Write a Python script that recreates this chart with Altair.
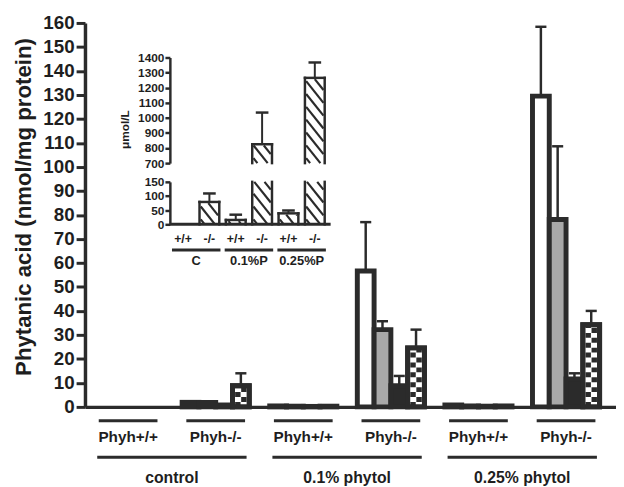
import altair as alt
import pandas as pd

FONT = "Liberation Sans"
INK = "#2b2b2b"
TXT = "#1e1e1e"

# ---------------- data ----------------
diets = ["control", "0.1% phytol", "0.25% phytol"]
genotypes = ["Phyh+/+", "Phyh-/-"]
series = ["white", "grey", "black", "checked"]

mean_control_wt = [0.0, 0.0, 0.0, 0.0]
mean_control_ko = [1.9, 1.8, 0.8, 8.8]
mean_p01_wt = [0.4, 0.3, 0.2, 0.3]
mean_p01_ko = [56.6, 32.2, 8.8, 24.6]
mean_p025_wt = [0.8, 0.4, 0.3, 0.4]
mean_p025_ko = [129.5, 78.1, 11.6, 34.2]

sd_control_wt = [0, 0, 0, 0]
sd_control_ko = [0, 0, 0, 5.2]
sd_p01_wt = [0, 0, 0, 0]
sd_p01_ko = [20.4, 3.5, 4.1, 7.6]
sd_p025_wt = [0, 0, 0, 0]
sd_p025_ko = [28.9, 30.5, 2.4, 5.8]

y_ticks = list(range(0, 161, 10))

inset_diets = ["C", "0.1%P", "0.25%P"]
inset_genotypes = ["+/+", "-/-"]
inset_mean = [0, 79, 15.4, 825, 38.7, 1265]
inset_sd = [0, 30, 18.6, 210, 10.1, 102]
inset_ticks_low = [0, 50, 100, 150]
inset_ticks_high = [700, 800, 900, 1000, 1100, 1200, 1300, 1400]
inset_break_low = 150
inset_break_high = 700

# ---------------- layout ----------------
W, H = 538, 389
SLOT = 17.0          # px per bar
GSTEP = 5.22         # group pitch in bar widths
XSTART = -0.57
xdom = [XSTART, XSTART + W / SLOT]

means = [mean_control_wt, mean_control_ko, mean_p01_wt, mean_p01_ko, mean_p025_wt, mean_p025_ko]
sds = [sd_control_wt, sd_control_ko, sd_p01_wt, sd_p01_ko, sd_p025_wt, sd_p025_ko]

rows = []
for g, (m, s) in enumerate(zip(means, sds)):
    for k in range(4):
        x0 = g * GSTEP + k
        c = x0 + 0.5
        rows.append(dict(group=g, series=series[k], x0=x0, x1=x0 + 1, xc=c, base=0.0,
                         value=m[k], sd=s[k], top=m[k] + s[k],
                         cl=c - 0.33, cr=c + 0.33, pl=c - 0.18, pr=c + 0.18))
bars = pd.DataFrame(rows)

xs = alt.Scale(domain=xdom, nice=False, zero=False)
ys = alt.Scale(domain=[0, 160], nice=False, zero=False)

y_axis = alt.Axis(values=y_ticks, tickCount=17, tickSize=9, tickWidth=3, domainWidth=3.5, domainColor=INK,
                  tickColor=INK, labelFont=FONT, labelFontSize=19, labelFontWeight="bold",
                  labelColor=TXT, labelPadding=2, labelOverlap=False, labelBound=False, grid=False,
                  format="d",
                  title="Phytanic acid (nmol/mg protein)", titleFont=FONT, titleFontSize=22.5,
                  titleFontWeight="bold", titleColor=TXT, titlePadding=8, titleY=186)
x_axis = alt.Axis(labels=False, ticks=False, title=None, grid=False, domainWidth=3.5, domainColor=INK)


def MX(f):
    return alt.X(f, scale=xs, axis=x_axis)


def MY(f):
    return alt.Y(f, scale=ys, axis=y_axis)


bar_layer = alt.Chart(bars[bars.value > 0]).mark_rect(stroke=INK, strokeWidth=5).encode(
    x=MX("x0:Q"), x2="x1:Q", y=MY("value:Q"), y2="base:Q",
    fill=alt.Fill("series:N", scale=alt.Scale(domain=series, range=["#ffffff", "#a9a9a9", INK, "#ffffff"]),
                  legend=None),
)

chk = bars[(bars.series == "checked") & (bars.value > 2)]
chk_a = alt.Chart(chk).mark_rule(color=INK, strokeWidth=5.5, strokeDash=[5, 5], strokeDashOffset=0).encode(
    x=MX("pl:Q"), y=MY("base:Q"), y2="value:Q")
chk_b = alt.Chart(chk).mark_rule(color=INK, strokeWidth=5.5, strokeDash=[5, 5], strokeDashOffset=5).encode(
    x=MX("pr:Q"), y=MY("base:Q"), y2="value:Q")
chk_outline = alt.Chart(chk).mark_rect(fill="white", fillOpacity=0, stroke=INK, strokeWidth=5).encode(
    x=MX("x0:Q"), x2="x1:Q", y=MY("value:Q"), y2="base:Q")

err = bars[bars.sd > 0]
stems = alt.Chart(err).mark_rule(color=INK, strokeWidth=2.5).encode(
    x=MX("xc:Q"), y=MY("value:Q"), y2="top:Q")
caps = alt.Chart(err).mark_rule(color=INK, strokeWidth=2.5).encode(
    x=MX("cl:Q"), x2="cr:Q", y=MY("top:Q"))

geno = pd.DataFrame([dict(label=genotypes[g % 2], c=g * GSTEP + 2, l=g * GSTEP + 0.25, r=g * GSTEP + 3.75)
                     for g in range(6)])
diet = pd.DataFrame([dict(label=diets[d], c=2 * d * GSTEP + 2 + GSTEP / 2,
                          l=2 * d * GSTEP + 2 + GSTEP / 2 - 4.45, r=2 * d * GSTEP + 2 + GSTEP / 2 + 4.45)
                     for d in range(3)])

geno_lines = alt.Chart(geno).mark_rule(color=INK, strokeWidth=3).encode(
    x=MX("l:Q"), x2="r:Q", y=alt.value(403))
geno_text = alt.Chart(geno).mark_text(font=FONT, fontSize=15.5, fontWeight="bold", color=TXT,
                                      baseline="middle", align="center").encode(
    x=MX("c:Q"), y=alt.value(420), text="label:N")
diet_lines = alt.Chart(diet).mark_rule(color=INK, strokeWidth=3).encode(
    x=MX("l:Q"), x2="r:Q", y=alt.value(440))
diet_text = alt.Chart(diet).mark_text(font=FONT, fontSize=16, fontWeight="bold", color=TXT,
                                      baseline="middle", align="center").encode(
    x=MX("c:Q"), y=alt.value(461), text="label:N")

main = alt.layer(bar_layer, chk_a, chk_b, chk_outline, stems, caps,
                 geno_lines, geno_text, diet_lines, diet_text)

# ---------------- inset (broken axis) ----------------
KX = 26.7
IX_RANGE = [86, 86 + 6.1 * KX]
LO_RANGE = [204, 161]
HI_RANGE = [142, 35]
KY_LO = (LO_RANGE[0] - LO_RANGE[1]) / (inset_break_low - 0)
KY_HI = (HI_RANGE[0] - HI_RANGE[1]) / (1400 - inset_break_high)

ibars = []
for i, (v, s) in enumerate(zip(inset_mean, inset_sd)):
    c = i + 0.5
    ibars.append(dict(i=i, c=c, x0=c - 0.375, x1=c + 0.375, value=v, sd=s, top=v + s,
                      cl=c - 0.24, cr=c + 0.24,
                      geno=inset_genotypes[i % 2]))
ib = pd.DataFrame(ibars)


def hatch(x0, x1, y0, y1, ky, closed):
    out = []
    pad = 1.25
    xl, xr = x0 * KX + pad, x1 * KX - pad
    vb = y0 * ky
    vt = y1 * ky - (pad if closed else 0)
    k, step = 1.25, 13.0
    cc = vb + 5
    while cc < vt + k * (xr - xl):
        xa = max(xl, xl + (cc - vt) / k)
        xb = min(xr, xl + (cc - vb) / k)
        if xb - xa > 0.5:
            out.append(dict(hx=xa / KX, hy=(cc - k * (xa - xl)) / ky,
                            hx2=xb / KX, hy2=(cc - k * (xb - xl)) / ky))
        cc += step
    return out


lo_rows, hi_rows, lo_h, hi_h = [], [], [], []
for r in ibars:
    v = r["value"]
    if v <= 0:
        continue
    closed = v <= inset_break_low
    lo_rows.append(dict(x0=r["x0"], x1=r["x1"], y0=0.0, y1=min(v, inset_break_low), closed=closed))
    lo_h += hatch(r["x0"], r["x1"], 0.0, min(v, inset_break_low), KY_LO, closed)
    if v > inset_break_high:
        hi_rows.append(dict(x0=r["x0"], x1=r["x1"], y0=float(inset_break_high), y1=v, closed=True))
        hi_h += hatch(r["x0"], r["x1"], float(inset_break_high), v, KY_HI, True)
lo_seg = pd.DataFrame(lo_rows)
hi_seg = pd.DataFrame(hi_rows)
lo_err = ib[(ib.sd > 0) & (ib.value <= inset_break_low)]
hi_err = ib[(ib.sd > 0) & (ib.value > inset_break_high)]


def inset_axis(vals):
    return alt.Axis(orient="left", offset=-86, values=vals, tickSize=5, tickWidth=2.5, domainWidth=2.5,
                    domainColor=INK, tickColor=INK, labelFont=FONT, labelFontSize=12, format="d",
                    labelFontWeight="bold", labelColor=TXT, labelPadding=1, labelOverlap=False,
                    labelBound=False, title=None, grid=False)


def inset_layer(seg, hdf, edf, yscale, axis, extra):
    ix = alt.Scale(domain=[0, 6.1], range=IX_RANGE, nice=False, zero=False)
    X = lambda f: alt.X(f, scale=ix, axis=None)
    Y = lambda f: alt.Y(f, scale=yscale, axis=axis)
    layers = [
        alt.Chart(seg).mark_rect(fill="white", strokeWidth=0).encode(
            x=X("x0:Q"), x2="x1:Q", y=Y("y0:Q"), y2="y1:Q"),
        alt.Chart(pd.DataFrame(hdf)).mark_rule(color=INK, strokeWidth=2.2).encode(
            x=X("hx:Q"), x2="hx2:Q", y=Y("hy:Q"), y2="hy2:Q"),
        alt.Chart(seg).mark_rule(color=INK, strokeWidth=2.5, strokeCap="square").encode(
            x=X("x0:Q"), y=Y("y0:Q"), y2="y1:Q"),
        alt.Chart(seg).mark_rule(color=INK, strokeWidth=2.5, strokeCap="square").encode(
            x=X("x1:Q"), y=Y("y0:Q"), y2="y1:Q"),
        alt.Chart(seg[seg.closed]).mark_rule(color=INK, strokeWidth=2.5, strokeCap="square").encode(
            x=X("x0:Q"), x2="x1:Q", y=Y("y1:Q")),
        alt.Chart(edf).mark_rule(color=INK, strokeWidth=2).encode(
            x=X("c:Q"), y=Y("value:Q"), y2="top:Q"),
        alt.Chart(edf).mark_rule(color=INK, strokeWidth=2.5).encode(
            x=X("cl:Q"), x2="cr:Q", y=Y("top:Q")),
    ]
    return alt.layer(*(layers + extra(X, Y)))


def lo_extra(X, Y):
    base = pd.DataFrame([dict(a=0.0, b=6.1, y=0.0)])
    pairs = pd.DataFrame([dict(label=inset_diets[d], c=2 * d + 1, l=2 * d + 0.08, r=2 * d + 1.92)
                          for d in range(3)])
    return [
        alt.Chart(base).mark_rule(color=INK, strokeWidth=3).encode(x=X("a:Q"), x2="b:Q", y=Y("y:Q")),
        alt.Chart(ib).mark_text(font=FONT, fontSize=12.5, fontWeight="bold", color=TXT,
                                baseline="middle", align="center").encode(
            x=X("c:Q"), y=alt.value(219), text="geno:N"),
        alt.Chart(pairs).mark_rule(color=INK, strokeWidth=3).encode(x=X("l:Q"), x2="r:Q", y=alt.value(230)),
        alt.Chart(pairs).mark_text(font=FONT, fontSize=13, fontWeight="bold", color=TXT,
                                   baseline="middle", align="center").encode(
            x=X("c:Q"), y=alt.value(241), text="label:N"),
    ]


def hi_extra(X, Y):
    t = pd.DataFrame([dict(label="\u03bcmol/L")])
    return [alt.Chart(t).mark_text(font=FONT, fontSize=12, fontWeight="bold", color=TXT, angle=270,
                                   baseline="middle", align="center").encode(
        x=alt.value(41), y=alt.value(108), text="label:N")]


ys_lo = alt.Scale(domain=[0, inset_break_low], range=LO_RANGE, nice=False, zero=False)
ys_hi = alt.Scale(domain=[inset_break_high, 1400], range=HI_RANGE, nice=False, zero=False)

inset_lo = inset_layer(lo_seg, lo_h, lo_err, ys_lo, inset_axis(inset_ticks_low), lo_extra)
inset_hi = inset_layer(hi_seg, hi_h, hi_err, ys_hi, inset_axis(inset_ticks_high), hi_extra)

chart = alt.layer(main, inset_lo, inset_hi).resolve_scale(
    x="independent", y="independent"
).properties(
    width=W, height=H,
    padding={"left": 78, "top": 12, "right": 0, "bottom": 78},
    autosize=alt.AutoSizeParams(type="none"),
    background="white",
).configure(font=FONT).configure_view(stroke="transparent")

chart.save("out.html", embed_options={"renderer": "svg", "actions": False})
